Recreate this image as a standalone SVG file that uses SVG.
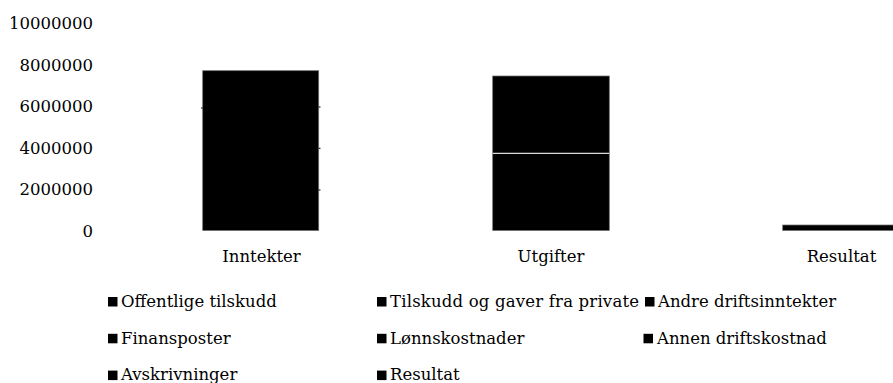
<svg xmlns="http://www.w3.org/2000/svg" width="893" height="383" viewBox="0 0 893 383">
  <style>
    text { font-family: "DejaVu Serif", "Liberation Serif", serif; font-size: 16.5px; fill: #000; }
    .ytick { text-anchor: end; }
    .cat { text-anchor: middle; }
    .bar { fill: #000; stroke: #6e6e6e; stroke-width: 0.75; }
    .sep { stroke: #d9d9d9; stroke-width: 1.2; }
    .tick { stroke: #000; stroke-width: 1; }
    .sw { fill: #000; }
  </style>
  <rect width="893" height="383" fill="#fff"/>

  <g id="y-axis">
    <text class="ytick" x="93" y="29.3">10000000</text>
    <text class="ytick" x="93" y="70.8">8000000</text>
    <text class="ytick" x="93" y="112.3">6000000</text>
    <text class="ytick" x="93" y="153.8">4000000</text>
    <text class="ytick" x="93" y="195.3">2000000</text>
    <text class="ytick" x="93" y="236.7">0</text>
  </g>

  <g id="bar-inntekter">
    <rect class="bar" x="202.7" y="70.7" width="116" height="159.8"/>
    <line class="tick" x1="318.7" y1="107" x2="320.5" y2="107"/>
    <line class="tick" x1="318.7" y1="148.3" x2="320.5" y2="148.3"/>
    <line class="tick" x1="318.7" y1="190" x2="320.5" y2="190"/>
    <line class="tick" x1="201" y1="108" x2="202.7" y2="108"/>
  </g>

  <g id="bar-utgifter">
    <rect class="bar" x="492.7" y="76" width="116.6" height="154.5"/>
    <line class="sep" x1="492.7" y1="153.3" x2="609.3" y2="153.3"/>
  </g>

  <g id="bar-resultat">
    <rect class="bar" x="782.7" y="225" width="116" height="5.5"/>
  </g>

  <g id="categories">
    <text class="cat" x="261.5" y="262">Inntekter</text>
    <text class="cat" x="551" y="262">Utgifter</text>
    <text class="cat" x="841.5" y="262">Resultat</text>
  </g>

  <g id="legend">
    <g id="leg-offentlige">
      <rect class="sw" x="108" y="297" width="9.5" height="9.5"/>
      <text x="121" y="306.7">Offentlige tilskudd</text>
    </g>
    <g id="leg-tilskudd">
      <rect class="sw" x="377" y="297" width="9.5" height="9.5"/>
      <text x="390" y="306.7" textLength="249">Tilskudd og gaver fra private</text>
    </g>
    <g id="leg-andre">
      <rect class="sw" x="645" y="297" width="9.5" height="9.5"/>
      <text x="658" y="306.7">Andre driftsinntekter</text>
    </g>
    <g id="leg-finans">
      <rect class="sw" x="108" y="333.8" width="9.5" height="9.5"/>
      <text x="121" y="343.5">Finansposter</text>
    </g>
    <g id="leg-lonn">
      <rect class="sw" x="377" y="333.8" width="9.5" height="9.5"/>
      <text x="390" y="343.5">Lønnskostnader</text>
    </g>
    <g id="leg-annen">
      <rect class="sw" x="643.5" y="333.8" width="9.5" height="9.5"/>
      <text x="657" y="343.5">Annen driftskostnad</text>
    </g>
    <g id="leg-avskr">
      <rect class="sw" x="108" y="370.6" width="9.5" height="9.5"/>
      <text x="121" y="380.3">Avskrivninger</text>
    </g>
    <g id="leg-resultat">
      <rect class="sw" x="377" y="370.6" width="9.5" height="9.5"/>
      <text x="390" y="380.3">Resultat</text>
    </g>
  </g>
</svg>
